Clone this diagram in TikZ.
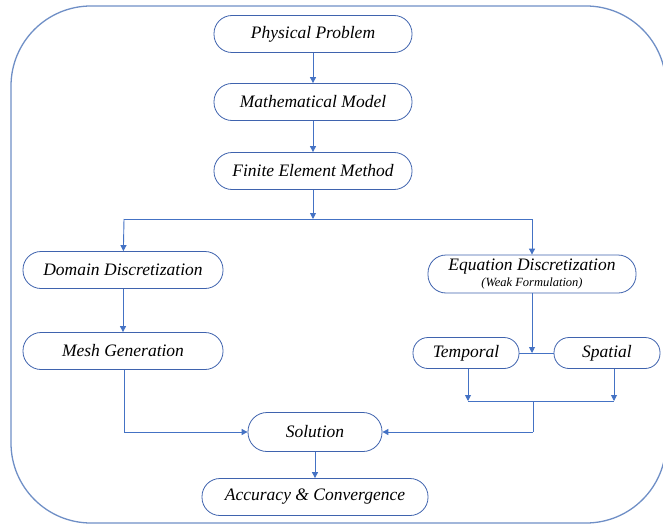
\documentclass[tikz,border=0pt]{standalone}
\usepackage{fontspec}
\setmainfont{Liberation Serif}
\usetikzlibrary{arrows.meta}
\definecolor{nodeblue}{HTML}{3F63AE}
\definecolor{linkblue}{HTML}{4472C4}
\definecolor{frameblue}{HTML}{6F8FC6}
\begin{document}
\begin{tikzpicture}[x=1pt,y=-1pt,
  stadium/.style={draw=nodeblue, line width=0.8pt, rectangle, rounded corners=18pt,
    minimum height=37pt, inner sep=0pt, font=\fontsize{17.5}{19}\selectfont\itshape, fill=white},
  link/.style={draw=linkblue, line width=0.9pt},
  arr/.style={link, -{Triangle[length=6pt,width=6pt]}}
]
\useasboundingbox (0,0) rectangle (663,524);
\begin{scope}
\clip (0,0) rectangle (663,524);
\draw[frameblue, line width=1.3pt, rounded corners=80pt] (11,6) rectangle (666,523);
\end{scope}

\node[stadium, minimum width=198pt] (pp) at (313,34) {Physical Problem};
\node[stadium, minimum width=198pt] (mm) at (313,102) {Mathematical Model};
\node[stadium, minimum width=198pt] (fem) at (313,171) {Finite Element Method};
\node[stadium, minimum width=200pt] (dd) at (123,270) {Domain Discretization};
\node[stadium, minimum width=200pt] (mg) at (123,351) {Mesh Generation};
\node[stadium, minimum width=208pt, minimum height=38pt, align=center] (ed) at (532,274)
  {Equation Discretization\\[-3pt]{\fontsize{12.5}{13}\selectfont(Weak Formulation)}};
\node[stadium, minimum width=106pt, minimum height=31pt, rounded corners=15pt] (tp) at (466,353) {Temporal};
\node[stadium, minimum width=106pt, minimum height=31pt, rounded corners=15pt] (sp) at (607,353) {Spatial};
\node[stadium, minimum width=134pt, minimum height=39pt, rounded corners=19pt] (sol) at (315,432) {Solution};
\node[stadium, minimum width=226pt] (acc) at (315,497) {Accuracy \& Convergence};

\coordinate (j1) at (313,219);
\coordinate (jl) at (124,219);
\coordinate (jr) at (532,219);
\coordinate (jm) at (532,353);
\coordinate (tb) at (468,401);
\coordinate (sb) at (614,401);
\coordinate (mb) at (533,401);
\coordinate (lc) at (124,432);
\coordinate (rc) at (533,432);

\draw[arr] (pp) -- (mm);
\draw[arr] (mm) -- (fem);
\draw[arr] (fem) -- (j1);
\draw[link] (jl) -- (jr);
\draw[arr] (jl) -- (dd);
\draw[arr] (jr) -- (ed.north);
\draw[arr] (dd) -- (mg);
\draw[link] (tp) -- (sp);
\draw[arr] (ed.south) -- (jm);
\draw[arr] (tp.south -| tb) -- (tb);
\draw[arr] (sp.south -| sb) -- (sb);
\draw[link] (tb) -- (sb);
\draw[link] (mb) -- (rc);
\draw[arr] (rc) -- (sol.east);
\draw[link] (mg.south -| lc) -- (lc);
\draw[arr] (lc) -- (sol.west);
\draw[arr] (sol) -- (acc);
\end{tikzpicture}
\end{document}
